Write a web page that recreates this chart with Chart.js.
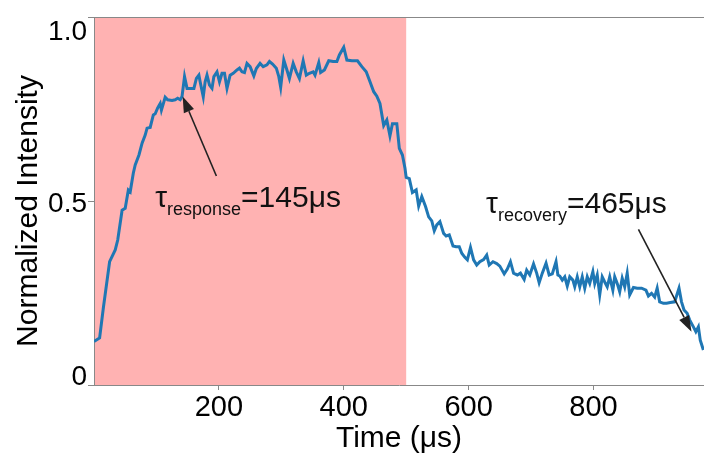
<!DOCTYPE html>
<html>
<head>
<meta charset="utf-8">
<script src="https://cdn.jsdelivr.net/npm/chart.js@4/dist/chart.umd.min.js"></script>
<style>
  html, body { margin: 0; padding: 0; background: #fff; }
  #wrap { width: 704px; height: 457px; }
</style>
</head>
<body>
<div id="wrap"><canvas id="myChart" width="704" height="457"></canvas></div>
<script>
// time in microseconds
var timeUs = [0, 9, 15, 25, 34, 38, 45, 50, 55, 58, 63, 66, 72, 77, 82, 85, 90, 95, 98, 102,
  106, 108, 112, 114, 118, 125, 130, 134, 138, 141, 145, 149, 154, 160, 164, 168, 170, 175, 178, 181,
  185, 189, 192, 197, 201, 205, 209, 213, 218, 223, 229, 233, 237, 241, 245, 250, 256, 260, 266, 271,
  277, 281, 286, 292, 296, 299, 304, 309, 313, 319, 324, 329, 335, 340, 345, 351, 354, 360, 363, 369,
  376, 383, 389, 393, 400, 405, 413, 422, 429, 436, 441, 448, 453, 458, 464, 469, 474, 478, 485, 489,
  494, 498, 500, 505, 510, 516, 520, 525, 531, 536, 541, 545, 549, 554, 560, 564, 569, 575, 580, 585,
  589, 594, 598, 603, 608, 613, 618, 624, 629, 633, 639, 645, 650, 657, 662, 667, 672, 678, 683, 689,
  693, 698, 704, 709, 713, 718, 724, 729, 734, 740, 743, 746, 750, 754, 758, 762, 767, 770, 774, 778,
  782, 786, 790, 794, 799, 802, 806, 810, 814, 818, 822, 826, 831, 834, 838, 842, 846, 850, 854, 858,
  864, 870, 877, 884, 888, 893, 898, 902, 906, 912, 917, 923, 930, 937, 941, 945, 950, 954, 960, 964,
  968, 971, 976]
// normalized intensity
var intensity = [0.118, 0.128, 0.21, 0.335, 0.367, 0.394, 0.475, 0.48, 0.53, 0.525, 0.576, 0.598, 0.625, 0.657, 0.679, 0.698, 0.70, 0.734, 0.737, 0.753,
  0.765, 0.747, 0.77, 0.782, 0.775, 0.773, 0.775, 0.779, 0.775, 0.784, 0.838, 0.806, 0.806, 0.806, 0.833, 0.842, 0.824, 0.783, 0.824, 0.842,
  0.815, 0.806, 0.838, 0.851, 0.824, 0.847, 0.847, 0.806, 0.842, 0.847, 0.856, 0.861, 0.851, 0.849, 0.874, 0.865, 0.84, 0.86, 0.874, 0.865,
  0.870, 0.879, 0.872, 0.861, 0.838, 0.809, 0.883, 0.856, 0.833, 0.874, 0.851, 0.833, 0.881, 0.842, 0.847, 0.851, 0.842, 0.876, 0.849, 0.856,
  0.881, 0.879, 0.879, 0.897, 0.918, 0.883, 0.881, 0.881, 0.865, 0.851, 0.829, 0.797, 0.785, 0.765, 0.705, 0.72, 0.677, 0.71, 0.71, 0.643,
  0.625, 0.59, 0.564, 0.561, 0.523, 0.530, 0.486, 0.512, 0.485, 0.457, 0.446, 0.419, 0.435, 0.444, 0.412, 0.405, 0.408, 0.378, 0.376, 0.376,
  0.358, 0.347, 0.340, 0.374, 0.34, 0.326, 0.335, 0.341, 0.353, 0.326, 0.335, 0.330, 0.323, 0.302, 0.315, 0.335, 0.304, 0.299, 0.304, 0.287,
  0.312, 0.299, 0.329, 0.304, 0.278, 0.304, 0.331, 0.299, 0.302, 0.335, 0.299, 0.296, 0.285, 0.294, 0.269, 0.294, 0.285, 0.267, 0.294, 0.267,
  0.294, 0.263, 0.294, 0.276, 0.308, 0.276, 0.299, 0.245, 0.294, 0.280, 0.267, 0.294, 0.258, 0.294, 0.276, 0.253, 0.290, 0.267, 0.304, 0.245,
  0.265, 0.263, 0.263, 0.258, 0.242, 0.249, 0.239, 0.263, 0.226, 0.222, 0.222, 0.224, 0.226, 0.263, 0.226, 0.204, 0.195, 0.177, 0.158, 0.145,
  0.158, 0.122, 0.095]

var xTicks = [200, 400, 600, 800]
var yTicks = [0, 0.5, 1.0]
var yTickLabels = ['0', '0.5', '1.0']
var pulseStart = 0, pulseEnd = 500

var notes = [
  { sub: 'response', rest: '=145μs', tx: 98, ty: 0.484, fromX: 196, fromY: 0.568, toX: 142, toY: 0.784 },
  { sub: 'recovery', rest: '=465μs', tx: 628, ty: 0.467, fromX: 872, fromY: 0.423, toX: 957, toY: 0.145 }
]

var FONT = '"Liberation Sans", Arial, sans-serif'

var points = timeUs.map(function (t, i) { return { x: t, y: intensity[i] } })

var pulseShade = {
  id: 'pulseShade',
  beforeDraw: function (chart) {
    var c = chart.ctx, a = chart.chartArea, xs = chart.scales.x
    c.save()
    c.fillStyle = '#ffb2b2'
    var x0 = xs.getPixelForValue(pulseStart), x1 = xs.getPixelForValue(pulseEnd)
    c.fillRect(x0, a.top, x1 - x0, a.bottom - a.top)
    c.restore()
  }
}

var extras = {
  id: 'extras',
  afterDraw: function (chart) {
    var c = chart.ctx, a = chart.chartArea, xs = chart.scales.x, ys = chart.scales.y
    c.save()
    // top spine
    c.strokeStyle = '#888'
    c.lineWidth = 1
    c.beginPath()
    c.moveTo(a.left, a.top + 0.5)
    c.lineTo(a.right, a.top + 0.5)
    c.stroke()

    // y tick labels
    c.fillStyle = '#000'
    c.font = '28px ' + FONT
    c.textAlign = 'right'
    c.textBaseline = 'alphabetic'
    var shift = [-0.5, 11, 22.5]
    yTicks.forEach(function (v, i) {
      c.fillText(yTickLabels[i], 87, ys.getPixelForValue(v) + shift[i])
    })

    // y title
    c.save()
    c.translate(37, 211)
    c.rotate(-Math.PI / 2)
    c.textAlign = 'center'
    c.font = '30px ' + FONT
    c.fillText('Normalized Intensity', 0, 0)
    c.restore()

    // annotations
    notes.forEach(function (n) {
      var x1 = xs.getPixelForValue(n.fromX), y1 = ys.getPixelForValue(n.fromY)
      var x2 = xs.getPixelForValue(n.toX), y2 = ys.getPixelForValue(n.toY)
      var ang = Math.atan2(y2 - y1, x2 - x1)
      var hl = 16, hw = 5.5
      var bx = x2 - hl * Math.cos(ang), by = y2 - hl * Math.sin(ang)
      c.strokeStyle = '#222'
      c.fillStyle = '#222'
      c.lineWidth = 1.6
      c.beginPath()
      c.moveTo(x1, y1)
      c.lineTo(bx, by)
      c.stroke()
      c.beginPath()
      c.moveTo(x2, y2)
      c.lineTo(bx + hw * Math.sin(ang), by - hw * Math.cos(ang))
      c.lineTo(bx - hw * Math.sin(ang), by + hw * Math.cos(ang))
      c.closePath()
      c.fill()

      var px = xs.getPixelForValue(n.tx), py = ys.getPixelForValue(n.ty)
      c.fillStyle = '#111'
      c.textAlign = 'left'
      c.font = '30px ' + FONT
      c.fillText('τ', px, py)
      px += c.measureText('τ').width
      c.font = '18px ' + FONT
      c.fillText(n.sub, px, py + 8)
      px += c.measureText(n.sub).width
      c.font = '30px ' + FONT
      c.fillText(n.rest, px, py)
    })
    c.restore()
  }
}

var ctx = document.getElementById('myChart').getContext('2d')
var myChart = new Chart(ctx, {
  type: 'line',
  data: {
    datasets: [{
      data: points,
      borderColor: '#1f77b4',
      borderWidth: 3,
      pointRadius: 0,
      fill: false,
      tension: 0
    }]
  },
  options: {
    responsive: false,
    animation: false,
    layout: { padding: { top: 17, right: 0, left: 0, bottom: 0 } },
    plugins: { legend: { display: false }, tooltip: { enabled: false } },
    scales: {
      x: {
        type: 'linear',
        min: 0,
        max: 977,
        afterBuildTicks: function (s) { s.ticks = xTicks.map(function (v) { return { value: v } }) },
        afterFit: function (s) { s.height = 72 },
        ticks: { color: '#000', padding: 1, font: { family: FONT, size: 29 }, maxRotation: 0 },
        grid: { drawOnChartArea: false, tickLength: 5, color: '#888' },
        border: { display: true, color: '#888', width: 1 },
        title: { display: true, text: 'Time (μs)', color: '#000', font: { family: FONT, size: 30 }, padding: { top: 0, bottom: 0 } }
      },
      y: {
        min: 0,
        max: 1,
        afterBuildTicks: function (s) { s.ticks = yTicks.map(function (v) { return { value: v } }) },
        afterFit: function (s) { s.width = 94 },
        ticks: { display: false },
        grid: { drawOnChartArea: false, tickLength: 6, color: '#888' },
        border: { display: true, color: '#888', width: 1 }
      }
    }
  },
  plugins: [pulseShade, extras]
})
</script>
</body>
</html>
